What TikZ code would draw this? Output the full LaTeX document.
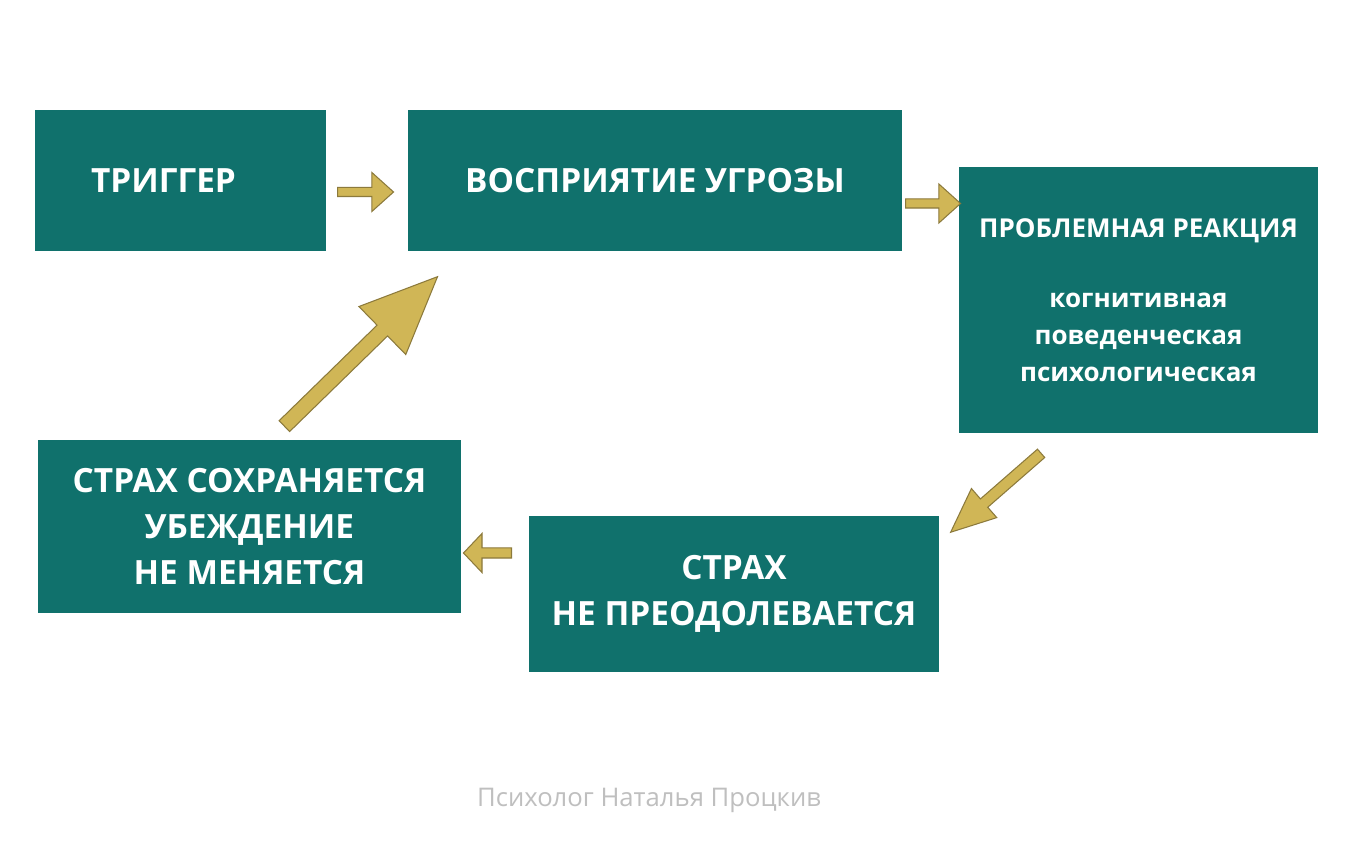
\documentclass[tikz,border=0pt]{standalone}
\usepackage{fontspec}
\setmainfont{Open Sans}
\usetikzlibrary{shapes.arrows,positioning}
\definecolor{boxteal}{RGB}{16,113,108}
\definecolor{arrowgold}{RGB}{208,182,86}
\definecolor{arrowedge}{RGB}{140,122,60}
\definecolor{footgray}{RGB}{191,191,191}
\tikzstyle{block} = [fill=boxteal, rectangle, text=white, align=center, inner sep=0pt, font=\bfseries\fontsize{9.5}{13}\selectfont]
\tikzstyle{smallblock} = [block, font=\bfseries\fontsize{7.4}{10.5}\selectfont]
\tikzstyle{goldarrow} = [single arrow, fill=arrowgold, draw=arrowedge, line width=0.3pt, inner xsep=0pt, single arrow head indent=0pt, anchor=tail]

\begin{document}
\begin{tikzpicture}
\useasboundingbox [fill=white] (0,0) rectangle (13.68,8.57);

\node [block, minimum width=2.91cm, minimum height=1.41cm] (trigger) at (1.805,6.765) {ТРИГГЕР\hspace*{0.34cm}};
\node [block, minimum width=4.94cm, minimum height=1.41cm] (threat) at (6.55,6.765) {ВОСПРИЯТИЕ УГРОЗЫ};
\node [smallblock, minimum width=3.59cm, minimum height=2.66cm] (reaction) at (11.385,5.57)
  {ПРОБЛЕМНАЯ РЕАКЦИЯ\\[9.5pt]когнитивная\\поведенческая\\психологическая};
\node [block, minimum width=4.10cm, minimum height=1.56cm] (fear) at (7.34,2.63) {СТРАХ\\НЕ ПРЕОДОЛЕВАЕТСЯ};
\node [block, minimum width=4.23cm, minimum height=1.73cm] (belief) at (2.495,3.305)
  {СТРАХ СОХРАНЯЕТСЯ\\УБЕЖДЕНИЕ\\НЕ МЕНЯЕТСЯ};

% block arrows between the boxes, placed by their tails
\node [goldarrow, inner ysep=0.04cm, minimum height=0.56cm, minimum width=0.38cm, single arrow head extend=0.15cm, single arrow tip angle=84] (a1) at (3.37,6.65) {};
\node [goldarrow, inner ysep=0.04cm, minimum height=0.55cm, minimum width=0.38cm, single arrow head extend=0.15cm, single arrow tip angle=84] (a2) at (9.05,6.535) {};
\node [goldarrow, inner ysep=0.05cm, rotate=221.1, minimum height=1.20cm, minimum width=0.375cm, single arrow head extend=0.1375cm, single arrow tip angle=47] (a3) at (10.415,4.04) {};
\node [goldarrow, inner ysep=0.045cm, rotate=180, minimum height=0.48cm, minimum width=0.38cm, single arrow head extend=0.145cm, single arrow tip angle=93] (a4) at (5.12,3.04) {};
\node [goldarrow, inner ysep=0.07cm, rotate=44.3, minimum height=2.14cm, minimum width=0.66cm, single arrow head extend=0.26cm, single arrow tip angle=47] (a5) at (2.84,4.305) {};

\node [text=footgray, font=\fontsize{7.3}{9}\selectfont] (author) at (6.49,0.57) {Психолог Наталья Процкив};
\end{tikzpicture}
\end{document}
